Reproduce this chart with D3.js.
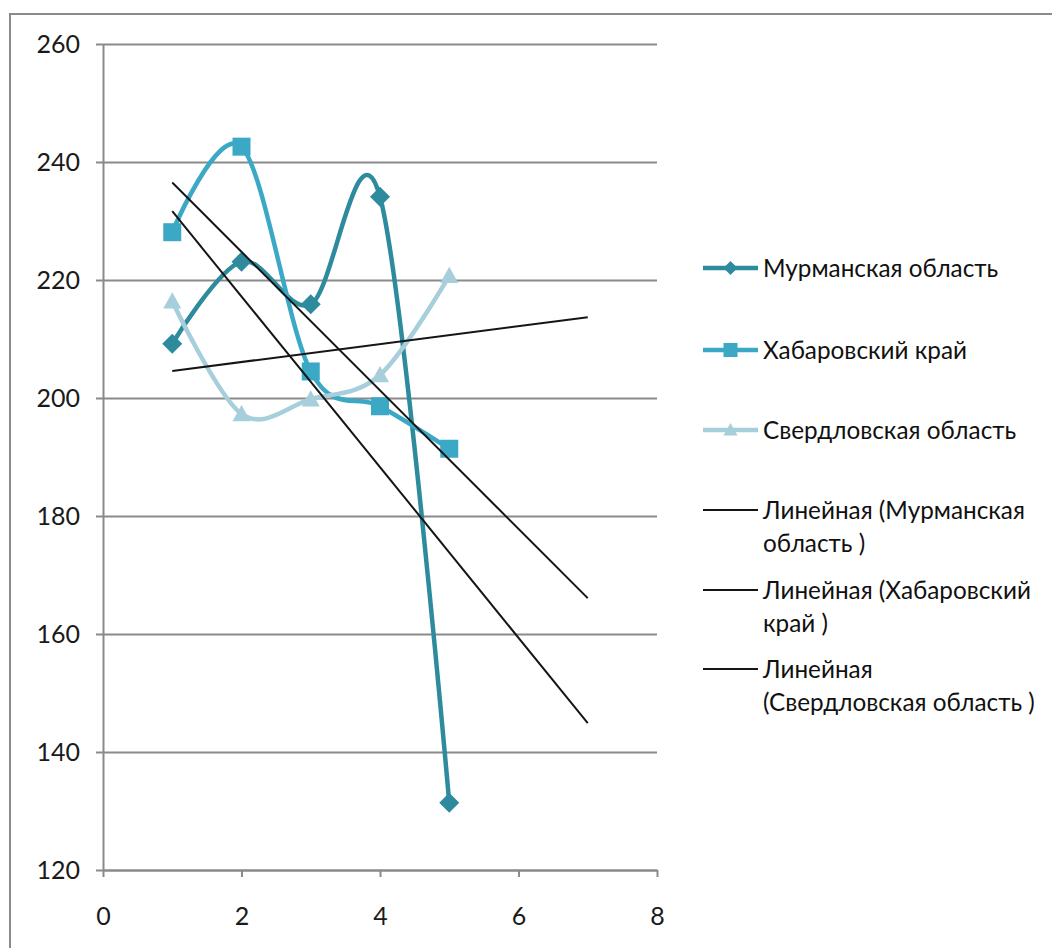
<!DOCTYPE html>
<html>
<head>
<meta charset="utf-8">
<script src="https://cdn.jsdelivr.net/npm/d3@7"></script>
<style>
  html, body { margin: 0; padding: 0; background: #fff; }
  svg { display: block; }
</style>
</head>
<body>
<svg id="chart" width="1052" height="948"></svg>
<script>
// Observation points on the x axis
const xValues = [1, 2, 3, 4, 5];

// Series values
const murmansk   = [209.2, 223.1, 215.9, 234.1, 131.4];
const khabarovsk = [228.1, 242.6, 204.5, 198.6, 191.4];
const sverdlovsk = [216.4, 197.3, 199.8, 203.9, 220.7];

// Series names
const seriesNames = ["Мурманская область", "Хабаровский край", "Свердловская область"];
const trendNames = [
  ["Линейная (Мурманская", "область )"],
  ["Линейная (Хабаровский", "край )"],
  ["Линейная", "(Свердловская область )"]
];

// Axis ticks
const xTicks = [0, 2, 4, 6, 8];
const yTicks = [120, 140, 160, 180, 200, 220, 240, 260];

// Trend lines are extended forward to this x value
const trendEnd = 7;

const colors = ["#2d8b9d", "#3ba8c5", "#a6cedb"];
const markers = ["diamond", "square", "triangle"];
const FONT = "Lato, 'Open Sans', sans-serif";

const svg = d3.select("#chart");

const x = d3.scaleLinear().domain([0, 8]).range([103, 657]);
const y = d3.scaleLinear().domain([120, 260]).range([870, 44]);

// Outer frame of the chart object
svg.append("rect")
  .attr("x", 10).attr("y", 14)
  .attr("width", 1100).attr("height", 1000)
  .attr("fill", "none").attr("stroke", "#8a8a8a").attr("stroke-width", 2);

// Horizontal gridlines with outward ticks
const yAxis = d3.axisLeft(y).tickValues(yTicks)
  .tickSize(-(x(8) - x(0)))
  .tickSizeOuter(0)
  .tickPadding(23);
const gy = svg.append("g").attr("transform", `translate(${x(0)},0)`).call(yAxis);
gy.select(".domain").attr("stroke", "#8a8a8a").attr("stroke-width", 2);
gy.selectAll(".tick line").attr("stroke", "#8a8a8a").attr("stroke-width", 2)
  .attr("x1", -7);
gy.selectAll(".tick text").attr("font-family", FONT).attr("font-size", 25)
  .attr("fill", "#1a1a1a");

// X axis along the bottom
const xAxis = d3.axisBottom(x).tickValues(xTicks).tickSize(7).tickSizeOuter(0).tickPadding(30);
const gx = svg.append("g").attr("transform", `translate(0,${y(120)})`).call(xAxis);
gx.select(".domain").attr("stroke", "#8a8a8a").attr("stroke-width", 2);
gx.selectAll(".tick line").attr("stroke", "#8a8a8a").attr("stroke-width", 2);
gx.selectAll(".tick text").attr("font-family", FONT).attr("font-size", 25)
  .attr("fill", "#1a1a1a");

const allSeries = [murmansk, khabarovsk, sverdlovsk];

const line = d3.line()
  .x(d => x(d[0])).y(d => y(d[1]))
  .curve(d3.curveCardinal.tension(0));

function markerPath(type, s) {
  const h = s / 2;
  if (type === "diamond") return `M0,${-h}L${h},0L0,${h}L${-h},0Z`;
  if (type === "square") return `M${-h},${-h}H${h}V${h}H${-h}Z`;
  return `M0,${-h}L${h},${h * 0.8}L${-h},${h * 0.8}Z`;
}

// Smoothed series lines with markers
allSeries.forEach((vals, i) => {
  const pts = xValues.map((xv, j) => [xv, vals[j]]);
  const g = svg.append("g");
  g.append("path").datum(pts)
    .attr("d", line)
    .attr("fill", "none").attr("stroke", colors[i]).attr("stroke-width", 4.5)
    .attr("stroke-linejoin", "round");
  g.selectAll("path.m").data(pts).join("path")
    .attr("class", "m")
    .attr("transform", d => `translate(${x(d[0])},${y(d[1])})`)
    .attr("d", markerPath(markers[i], markers[i] === "diamond" ? 20 : 18))
    .attr("fill", colors[i]);
});

// Least-squares linear trend lines, extended forward
function fit(vals) {
  const mx = d3.mean(xValues), my = d3.mean(vals);
  let sxy = 0, sxx = 0;
  xValues.forEach((xv, j) => { sxy += (xv - mx) * (vals[j] - my); sxx += (xv - mx) ** 2; });
  const b = sxy / sxx;
  return xv => my + b * (xv - mx);
}
allSeries.forEach(vals => {
  const f = fit(vals);
  const x0 = xValues[0];
  svg.append("line")
    .attr("x1", x(x0)).attr("y1", y(f(x0)))
    .attr("x2", x(trendEnd)).attr("y2", y(f(trendEnd)))
    .attr("stroke", "#151515").attr("stroke-width", 2);
});

// Legend
const legend = svg.append("g");
const lx0 = 703, lx1 = 758, tx = 763;
const seriesY = [268, 350, 430];
seriesNames.forEach((name, i) => {
  const g = legend.append("g");
  g.append("line").attr("x1", lx0).attr("x2", lx1).attr("y1", seriesY[i]).attr("y2", seriesY[i])
    .attr("stroke", colors[i]).attr("stroke-width", 4.5);
  g.append("path")
    .attr("transform", `translate(${(lx0 + lx1) / 2},${seriesY[i]})`)
    .attr("d", markerPath(markers[i], 14))
    .attr("fill", colors[i]);
  g.append("text").attr("x", tx).attr("y", seriesY[i]).attr("dy", "0.35em")
    .attr("font-family", FONT).attr("font-size", 24.3).attr("fill", "#111")
    .text(name);
});
const trendY = [510, 590, 669];
trendNames.forEach((lines, i) => {
  const g = legend.append("g");
  g.append("line").attr("x1", lx0).attr("x2", lx1).attr("y1", trendY[i]).attr("y2", trendY[i])
    .attr("stroke", "#151515").attr("stroke-width", 2);
  lines.forEach((t, k) => {
    g.append("text").attr("x", tx).attr("y", trendY[i] + k * 33).attr("dy", "0.35em")
      .attr("font-family", FONT).attr("font-size", 24.3).attr("fill", "#111")
      .text(t);
  });
});
</script>
</body>
</html>
